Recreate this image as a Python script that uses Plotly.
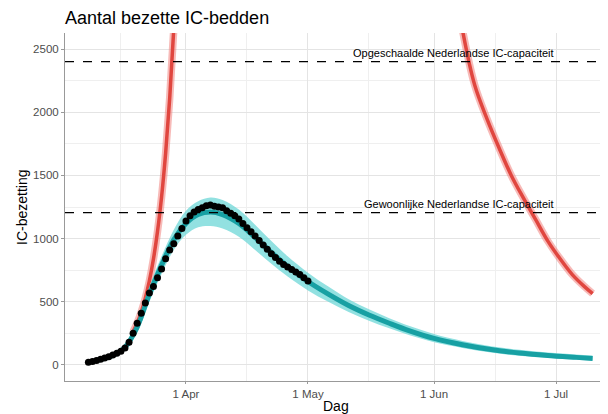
import plotly.graph_objects as go
import pandas as pd

# ---------------- data ----------------
obs_start = "2020-03-08"
obs_values = [22, 28, 35, 45, 55, 65, 78, 92, 108, 135, 180, 250, 330, 410, 490, 570,
              620, 690, 760, 840, 910, 960, 1020, 1080, 1140, 1180, 1210, 1230, 1245,
              1260, 1265, 1255, 1250, 1245, 1220, 1200, 1180, 1155, 1120, 1085, 1055,
              1020, 985, 950, 915, 880, 850, 820, 795, 775, 755, 735, 715, 690, 665]
obs_dates = pd.date_range(obs_start, periods=len(obs_values), freq="D")

model_dates = ["2020-03-10", "2020-03-14", "2020-03-17", "2020-03-20", "2020-03-23",
               "2020-03-26", "2020-03-29", "2020-04-01", "2020-04-04", "2020-04-07",
               "2020-04-10", "2020-04-14", "2020-04-18", "2020-04-22", "2020-04-26",
               "2020-05-01", "2020-05-06", "2020-05-11", "2020-05-16", "2020-05-21",
               "2020-05-26", "2020-06-01", "2020-06-08", "2020-06-15", "2020-06-22",
               "2020-06-29", "2020-07-06", "2020-07-10"]
model_mid = [35, 75, 140, 300, 560, 790, 990, 1120, 1190, 1210, 1190, 1120, 1010, 890,
             780, 660, 560, 470, 395, 330, 270, 210, 160, 122, 95, 75, 60, 52]
model_lo = [28, 62, 118, 258, 500, 720, 910, 1030, 1090, 1100, 1080, 1015, 910, 800,
            700, 590, 500, 420, 350, 290, 235, 180, 135, 98, 72, 55, 42, 36]
model_hi = [42, 88, 162, 342, 620, 860, 1070, 1220, 1295, 1325, 1305, 1230, 1110, 980,
            860, 730, 620, 520, 440, 370, 308, 245, 190, 148, 120, 98, 82, 74]

red1_start = "2020-03-19"
red1_values = [264, 333, 419, 528, 665, 838, 1056, 1330, 1676, 2112, 2661, 3352]
red1_dates = pd.date_range(red1_start, periods=len(red1_values), freq="D")

red2_dates = ["2020-06-05", "2020-06-08", "2020-06-11", "2020-06-14", "2020-06-17",
              "2020-06-20", "2020-06-23", "2020-06-26", "2020-06-29", "2020-07-02",
              "2020-07-05", "2020-07-08", "2020-07-10"]
red2_values = [3250, 2650, 2215, 1950, 1717, 1500, 1320, 1150, 980, 840, 715, 620, 565]

cap_high = 2400
cap_low = 1205
cap_high_label = "Opgeschaalde Nederlandse IC-capaciteit"
cap_low_label = "Gewoonlijke Nederlandse IC-capaciteit"

x_ticks = ["2020-04-01", "2020-05-01", "2020-06-01", "2020-07-01"]
x_tick_text = ["1 Apr", "1 May", "1 Jun", "1 Jul"]
x_minor = ["2020-03-16", "2020-04-16", "2020-05-16", "2020-06-16"]
y_ticks = [0, 500, 1000, 1500, 2000, 2500]

# ---------------- figure ----------------
FONT = "Liberation Sans, Arial, Helvetica, sans-serif"
OFF = 8  # page body margin
W, H = 608 - OFF, 414 - OFF
ML, MR, MT, MB = 65 - OFF, 2, 33 - OFF, 33
fig = go.Figure()

# red scenario curves
for xs, ys in ((red1_dates, red1_values), (red2_dates, red2_values)):
    fig.add_trace(go.Scatter(x=xs, y=ys, mode="lines", line=dict(color="rgba(240,130,125,0.55)", width=7.5, shape="spline"),
                             hoverinfo="skip", showlegend=False))
    fig.add_trace(go.Scatter(x=xs, y=ys, mode="lines", line=dict(color="#e0463f", width=3.5, shape="spline"),
                             showlegend=False))

# teal model ribbon
fig.add_trace(go.Scatter(x=model_dates, y=model_hi, mode="lines", line=dict(width=0, shape="spline"),
                         hoverinfo="skip", showlegend=False))
fig.add_trace(go.Scatter(x=model_dates, y=model_lo, mode="lines", line=dict(width=0, shape="spline"),
                         fill="tonexty", fillcolor="rgba(110,215,215,0.75)", hoverinfo="skip", showlegend=False))
fig.add_trace(go.Scatter(x=model_dates, y=model_mid, mode="lines", line=dict(color="#17a0a3", width=5, shape="spline"),
                         showlegend=False))

# observations
fig.add_trace(go.Scatter(x=obs_dates, y=obs_values, mode="markers",
                         marker=dict(color="black", size=7), showlegend=False))

# capacity lines
for yv, label in ((cap_high, cap_high_label), (cap_low, cap_low_label)):
    fig.add_shape(type="line", xref="paper", x0=0, x1=1, yref="y", y0=yv, y1=yv,
                  line=dict(color="black", width=1.2, dash="dash"), layer="above")
    fig.add_annotation(x="2020-07-01", y=yv, xref="x", yref="y", text=label, showarrow=False,
                       xanchor="right", yanchor="bottom", yshift=1,
                       font=dict(family=FONT, size=11, color="black"))

# axis titles as annotations
PH = H - MT - MB
PW = W - ML - MR
fig.add_annotation(text="Dag", xref="paper", x=0.5, yref="paper", y=-((406 - OFF) - (H - MB)) / PH,
                   yanchor="middle", xanchor="center", showarrow=False,
                   font=dict(family=FONT, size=14, color="black"))
fig.add_annotation(text="IC-bezetting", xref="paper", x=-(ML - (22 - OFF)) / PW, xanchor="center",
                   yref="paper", y=0.5, yanchor="middle", textangle=-90, showarrow=False,
                   font=dict(family=FONT, size=14, color="black"))

fig.update_layout(
    width=W, height=H,
    margin=dict(l=ML, r=MR, t=MT, b=MB),
    paper_bgcolor="white", plot_bgcolor="white",
    font=dict(family=FONT),
    title=dict(text="Aantal bezette IC-bedden", x=ML / W, xanchor="left", xref="container",
               y=1 - (18 - OFF) / H, yanchor="middle", yref="container",
               font=dict(family=FONT, size=18, color="black")),
)

fig.update_xaxes(
    type="date", range=["2020-03-02 06:00", "2020-07-13 07:00"], automargin=False,
    tickvals=x_ticks, ticktext=x_tick_text,
    tickfont=dict(family=FONT, size=11.5, color="#4d4d4d"),
    ticks="outside", ticklen=2, tickcolor="#999999",
    showline=True, linecolor="#999999", linewidth=1,
    showgrid=True, gridcolor="#e4e4e4", gridwidth=1,
    minor=dict(tickvals=x_minor, showgrid=True, gridcolor="#efefef", gridwidth=0.6, ticklen=0),
    zeroline=False,
)
fig.update_yaxes(
    range=[-127, 2627], tickvals=y_ticks, automargin=False,
    tickfont=dict(family=FONT, size=11.5, color="#4d4d4d"),
    ticks="outside", ticklen=3, tickcolor="#999999",
    showline=True, linecolor="#999999", linewidth=1,
    showgrid=True, gridcolor="#e4e4e4", gridwidth=1,
    minor=dict(dtick=250, tick0=250, showgrid=True, gridcolor="#efefef", gridwidth=0.6, ticklen=0),
    zeroline=False,
)

fig.write_html("out.html")
